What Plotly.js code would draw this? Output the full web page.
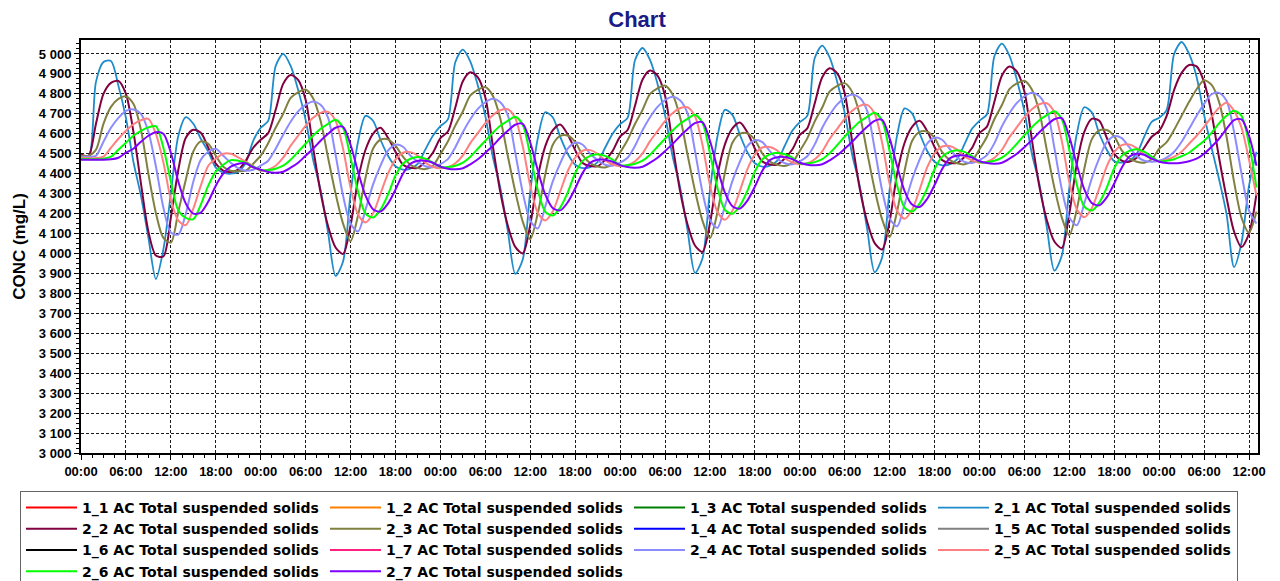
<!DOCTYPE html>
<html>
<head>
<meta charset="utf-8">
<script src="https://cdn.plot.ly/plotly-3.0.1.min.js"></script>
<style>
  html, body { margin: 0; padding: 0; background: #fff; }
  #chart { width: 1280px; height: 581px; }
</style>
</head>
<body>
<div id="chart"></div>
<script>
// Hourly total suspended solids, mg/L, starting at midnight of day 1.
const startTime = Date.UTC(2024, 0, 1, 0, 0);
const stepHours = 1;

const seriesNames = [
  '1_1', '1_2', '1_3', '2_1', '2_2', '2_3', '1_4',
  '1_5', '1_6', '1_7', '2_4', '2_5', '2_6', '2_7'
];
const seriesLabel = ' AC Total suspended solids';

// Tanks of line 1 have no valid reading in this period (null = missing).
const tss_1_1 = [null];
const tss_1_2 = [null];
const tss_1_3 = [null];
const tss_1_4 = [null];
const tss_1_5 = [null];
const tss_1_6 = [null];
const tss_1_7 = [null];

const tss_2_1 = [
  4490, 4475, 4860, 4960, 4965, 4840, 4680, 4460, 4290, 4080, 3872, 4020, 4300, 4590, 4683, 4650, 4575, 4510, 4430, 4405, 4400, 4410, 4455, 4565,
  4630, 4665, 4940, 5000, 4940, 4820, 4670, 4470, 4320, 4105, 3888, 3960, 4300, 4560, 4690, 4665, 4570, 4490, 4437, 4420, 4425, 4450, 4522, 4590,
  4638, 4672, 4960, 5022, 4962, 4842, 4690, 4485, 4330, 4115, 3898, 3970, 4310, 4575, 4708, 4683, 4585, 4500, 4445, 4428, 4433, 4458, 4530, 4600,
  4648, 4680, 4970, 5030, 4970, 4850, 4695, 4490, 4335, 4120, 3903, 3975, 4315, 4585, 4720, 4695, 4595, 4508, 4452, 4435, 4440, 4465, 4540, 4615,
  4658, 4690, 4980, 5042, 4982, 4860, 4705, 4495, 4340, 4123, 3906, 3980, 4320, 4592, 4727, 4702, 4603, 4515, 4460, 4442, 4447, 4472, 4548, 4625,
  4665, 4698, 4990, 5052, 4992, 4870, 4712, 4500, 4348, 4130, 3914, 3990, 4330, 4600, 4733, 4708, 4600, 4520, 4462, 4455, 4465, 4500, 4585, 4660,
  4680, 4720, 5000, 5060, 5000, 4885, 4695, 4530, 4372, 4197, 3932, 4055, 4340, 4510
];

const tss_2_2 = [
  4495, 4490, 4650, 4800, 4855, 4865, 4800, 4610, 4353, 4110, 3990, 3985, 4180, 4420, 4580, 4620, 4605, 4530, 4450, 4415, 4408, 4420, 4465, 4530,
  4570, 4603, 4720, 4850, 4895, 4870, 4770, 4530, 4305, 4137, 4030, 3998, 4140, 4370, 4520, 4600, 4630, 4580, 4510, 4445, 4430, 4430, 4460, 4505,
  4578, 4611, 4733, 4863, 4908, 4883, 4783, 4540, 4308, 4140, 4033, 4000, 4143, 4380, 4537, 4617, 4647, 4597, 4518, 4453, 4438, 4438, 4468, 4513,
  4586, 4619, 4742, 4872, 4917, 4892, 4792, 4550, 4315, 4147, 4040, 4008, 4150, 4390, 4547, 4627, 4657, 4607, 4526, 4461, 4446, 4446, 4476, 4521,
  4594, 4627, 4753, 4883, 4928, 4903, 4803, 4560, 4327, 4159, 4052, 4020, 4162, 4400, 4555, 4635, 4665, 4615, 4534, 4469, 4454, 4454, 4484, 4529,
  4603, 4636, 4762, 4892, 4937, 4912, 4812, 4570, 4335, 4167, 4060, 4028, 4200, 4450, 4610, 4675, 4665, 4580, 4500, 4465, 4460, 4480, 4530, 4585,
  4615, 4690, 4820, 4905, 4945, 4938, 4860, 4700, 4480, 4280, 4110, 4032, 4100, 4300
];

const tss_2_3 = [
  4490, 4490, 4520, 4650, 4735, 4775, 4787, 4750, 4620, 4400, 4203, 4078, 4055, 4210, 4370, 4512, 4562, 4550, 4490, 4435, 4415, 4412, 4415, 4450,
  4490, 4553, 4630, 4700, 4780, 4808, 4822, 4778, 4665, 4480, 4300, 4150, 4062, 4190, 4380, 4525, 4570, 4572, 4540, 4485, 4445, 4428, 4423, 4440,
  4498, 4561, 4642, 4712, 4792, 4820, 4834, 4790, 4677, 4490, 4310, 4160, 4072, 4200, 4395, 4544, 4589, 4591, 4559, 4493, 4453, 4436, 4431, 4448,
  4506, 4569, 4650, 4720, 4800, 4828, 4842, 4798, 4685, 4497, 4315, 4165, 4077, 4205, 4405, 4555, 4600, 4602, 4570, 4501, 4461, 4444, 4439, 4456,
  4514, 4577, 4662, 4732, 4812, 4840, 4854, 4810, 4697, 4507, 4321, 4171, 4083, 4211, 4415, 4564, 4609, 4611, 4579, 4509, 4469, 4452, 4447, 4464,
  4522, 4585, 4674, 4744, 4824, 4852, 4866, 4822, 4709, 4517, 4330, 4180, 4092, 4220, 4425, 4572, 4617, 4619, 4587, 4517, 4477, 4460, 4455, 4472,
  4525, 4558, 4620, 4690, 4760, 4823, 4868, 4845, 4760, 4585, 4360, 4180, 4105, 4210
];

const tss_2_4 = [
  4485, 4485, 4490, 4560, 4630, 4680, 4715, 4722, 4700, 4610, 4437, 4230, 4105, 4095, 4200, 4360, 4470, 4510, 4525, 4490, 4455, 4428, 4415, 4420,
  4440, 4465, 4525, 4595, 4660, 4712, 4745, 4762, 4745, 4680, 4495, 4290, 4150, 4110, 4220, 4345, 4440, 4515, 4545, 4535, 4490, 4460, 4437, 4432,
  4448, 4473, 4533, 4608, 4673, 4725, 4758, 4775, 4758, 4693, 4505, 4305, 4165, 4125, 4235, 4360, 4452, 4525, 4555, 4545, 4500, 4468, 4445, 4440,
  4455, 4480, 4540, 4618, 4683, 4735, 4768, 4785, 4768, 4703, 4515, 4308, 4168, 4128, 4238, 4363, 4460, 4538, 4568, 4558, 4513, 4475, 4452, 4447,
  4462, 4487, 4547, 4630, 4695, 4747, 4780, 4797, 4780, 4715, 4525, 4316, 4176, 4136, 4246, 4371, 4470, 4550, 4580, 4570, 4525, 4482, 4459, 4454,
  4468, 4493, 4553, 4638, 4703, 4755, 4788, 4805, 4788, 4723, 4530, 4321, 4181, 4141, 4251, 4376, 4478, 4558, 4588, 4578, 4533, 4488, 4465, 4460,
  4465, 4480, 4510, 4560, 4625, 4690, 4750, 4798, 4805, 4765, 4610, 4400, 4215, 4150
];

const tss_2_5 = [
  4480, 4478, 4478, 4485, 4530, 4575, 4615, 4648, 4668, 4675, 4600, 4457, 4270, 4165, 4142, 4225, 4340, 4440, 4475, 4500, 4500, 4482, 4460, 4438,
  4415, 4420, 4440, 4480, 4540, 4590, 4640, 4680, 4705, 4710, 4665, 4525, 4330, 4195, 4155, 4200, 4300, 4400, 4470, 4505, 4508, 4490, 4455, 4435,
  4427, 4432, 4452, 4492, 4553, 4603, 4653, 4693, 4718, 4723, 4678, 4537, 4340, 4205, 4165, 4210, 4310, 4412, 4480, 4515, 4518, 4500, 4467, 4447,
  4437, 4442, 4462, 4502, 4563, 4613, 4663, 4703, 4728, 4733, 4688, 4545, 4344, 4209, 4169, 4214, 4314, 4422, 4496, 4531, 4534, 4516, 4477, 4457,
  4447, 4452, 4472, 4512, 4575, 4625, 4675, 4715, 4740, 4745, 4700, 4555, 4349, 4214, 4174, 4219, 4319, 4430, 4501, 4536, 4539, 4521, 4487, 4467,
  4455, 4460, 4480, 4520, 4583, 4633, 4683, 4723, 4748, 4753, 4708, 4563, 4357, 4222, 4182, 4227, 4327, 4437, 4508, 4543, 4546, 4528, 4495, 4475,
  4462, 4470, 4485, 4510, 4550, 4590, 4635, 4685, 4730, 4755, 4715, 4630, 4470, 4290
];

const tss_2_6 = [
  4475, 4473, 4472, 4475, 4485, 4520, 4555, 4590, 4615, 4632, 4638, 4530, 4360, 4215, 4178, 4172, 4245, 4340, 4410, 4445, 4468, 4465, 4455, 4435,
  4418, 4418, 4425, 4440, 4470, 4510, 4550, 4590, 4625, 4650, 4670, 4630, 4480, 4310, 4200, 4180, 4220, 4295, 4390, 4450, 4475, 4483, 4475, 4455,
  4433, 4433, 4440, 4455, 4485, 4525, 4565, 4605, 4640, 4665, 4685, 4645, 4492, 4320, 4210, 4190, 4230, 4305, 4402, 4464, 4489, 4497, 4489, 4470,
  4443, 4443, 4450, 4465, 4495, 4535, 4575, 4615, 4650, 4675, 4695, 4655, 4502, 4329, 4219, 4199, 4239, 4314, 4410, 4472, 4497, 4505, 4497, 4480,
  4451, 4451, 4458, 4473, 4503, 4543, 4585, 4625, 4660, 4685, 4705, 4665, 4512, 4340, 4230, 4210, 4250, 4325, 4422, 4484, 4509, 4517, 4509, 4488,
  4458, 4458, 4465, 4480, 4510, 4550, 4593, 4633, 4668, 4693, 4713, 4673, 4518, 4345, 4235, 4215, 4255, 4330, 4427, 4489, 4514, 4522, 4510, 4485,
  4462, 4465, 4472, 4488, 4505, 4535, 4565, 4605, 4652, 4690, 4715, 4690, 4550, 4330
];

const tss_2_7 = [
  4470, 4470, 4470, 4470, 4472, 4480, 4505, 4525, 4560, 4590, 4608, 4600, 4505, 4360, 4250, 4200, 4205, 4260, 4340, 4400, 4435, 4450, 4452, 4432,
  4420, 4408, 4405, 4410, 4430, 4455, 4490, 4525, 4565, 4600, 4630, 4635, 4545, 4410, 4290, 4222, 4210, 4250, 4320, 4400, 4450, 4465, 4465, 4455,
  4435, 4425, 4422, 4427, 4447, 4472, 4505, 4540, 4580, 4615, 4645, 4650, 4556, 4418, 4296, 4228, 4216, 4256, 4326, 4404, 4455, 4470, 4470, 4460,
  4443, 4433, 4430, 4435, 4455, 4480, 4513, 4548, 4588, 4623, 4653, 4658, 4565, 4428, 4305, 4237, 4225, 4265, 4335, 4415, 4468, 4483, 4483, 4473,
  4455, 4445, 4442, 4447, 4467, 4492, 4525, 4560, 4600, 4635, 4665, 4670, 4577, 4438, 4313, 4245, 4233, 4273, 4343, 4422, 4476, 4491, 4491, 4481,
  4463, 4453, 4450, 4455, 4475, 4500, 4533, 4568, 4608, 4643, 4673, 4678, 4585, 4445, 4321, 4253, 4241, 4281, 4351, 4430, 4485, 4500, 4495, 4475,
  4460, 4453, 4452, 4455, 4462, 4475, 4500, 4535, 4575, 4625, 4668, 4672, 4590, 4440
];

const seriesValues = {
  '1_1': tss_1_1, '1_2': tss_1_2, '1_3': tss_1_3, '1_4': tss_1_4,
  '1_5': tss_1_5, '1_6': tss_1_6, '1_7': tss_1_7,
  '2_1': tss_2_1, '2_2': tss_2_2, '2_3': tss_2_3, '2_4': tss_2_4,
  '2_5': tss_2_5, '2_6': tss_2_6, '2_7': tss_2_7
};

const seriesColors = {
  '1_1': '#ff0000', '1_2': '#ff8000', '1_3': '#008000', '2_1': '#1e8bcb',
  '2_2': '#800040', '2_3': '#808040', '1_4': '#0000ff', '1_5': '#808080',
  '1_6': '#000000', '1_7': '#ff2080', '2_4': '#8c8cff', '2_5': '#ff8080',
  '2_6': '#00ff00', '2_7': '#8000ff'
};

const HOUR = 3600 * 1000;
const FONT = 'Liberation Sans, Arial, sans-serif';
const LEGEND_FONT = 'DejaVu Sans, Verdana, sans-serif';

const traces = seriesNames.map(function (key) {
  const values = seriesValues[key];
  return {
    type: 'scatter',
    mode: 'lines',
    name: key + seriesLabel,
    x: values.map(function (_, i) { return startTime + i * stepHours * HOUR; }),
    y: values,
    line: {
      color: seriesColors[key],
      width: key === '2_1' ? 1.8 : 2,
      shape: 'spline',
      smoothing: 0.8
    },
    hoverinfo: 'x+y+name'
  };
});

const axisCommon = {
  showgrid: true,
  gridcolor: '#1a1a1a',
  gridwidth: 1,
  griddash: '3px,2px',
  zeroline: false,
  showline: true,
  mirror: true,
  linecolor: '#000',
  linewidth: 2,
  ticks: 'outside',
  ticklen: 5,
  tickwidth: 1,
  tickcolor: '#000',
  tickfont: { family: FONT, size: 13, color: '#000', weight: 'bold' }
};

const layout = {
  width: 1280,
  height: 581,
  paper_bgcolor: '#fff',
  plot_bgcolor: '#fff',
  separators: '. ',
  margin: { l: 81, r: 22, t: 40, b: 128, autoexpand: false },
  title: {
    text: 'Chart',
    font: { family: FONT, size: 22, color: '#1a1a86', weight: 'bold' },
    x: 637 / 1280, xref: 'container', xanchor: 'center',
    y: 1 - 19 / 581, yref: 'container', yanchor: 'middle'
  },
  xaxis: Object.assign({}, axisCommon, {
    type: 'date',
    range: [startTime, startTime + 157.2 * HOUR],
    tick0: startTime,
    dtick: 6 * HOUR,
    tickformat: '%H:%M',
    minor: { dtick: 1.5 * HOUR, ticks: 'outside', ticklen: 3, tickcolor: '#000', showgrid: false }
  }),
  yaxis: Object.assign({}, axisCommon, {
    range: [3000, 5070],
    tick0: 3000,
    dtick: 100,
    separatethousands: true,
    minor: { dtick: 25, ticks: 'outside', ticklen: 3, tickcolor: '#000', showgrid: false },
    title: {
      text: 'CONC (mg/L)',
      font: { family: FONT, size: 17, color: '#000', weight: 'bold' },
      standoff: 9
    }
  }),
  showlegend: true,
  legend: {
    orientation: 'h',
    x: (20 - 81) / 1177,
    xanchor: 'left',
    y: (453 - 491) / 413,
    yanchor: 'top',
    bordercolor: '#666',
    borderwidth: 1,
    bgcolor: '#fff',
    itemwidth: 51,
    entrywidth: 238,
    entrywidthmode: 'pixels',
    traceorder: 'normal',
    font: { family: LEGEND_FONT, size: 14, color: '#000', weight: 'bold' }
  }
};

Plotly.newPlot('chart', traces, layout, { displayModeBar: false, staticPlot: true });
</script>
</body>
</html>
